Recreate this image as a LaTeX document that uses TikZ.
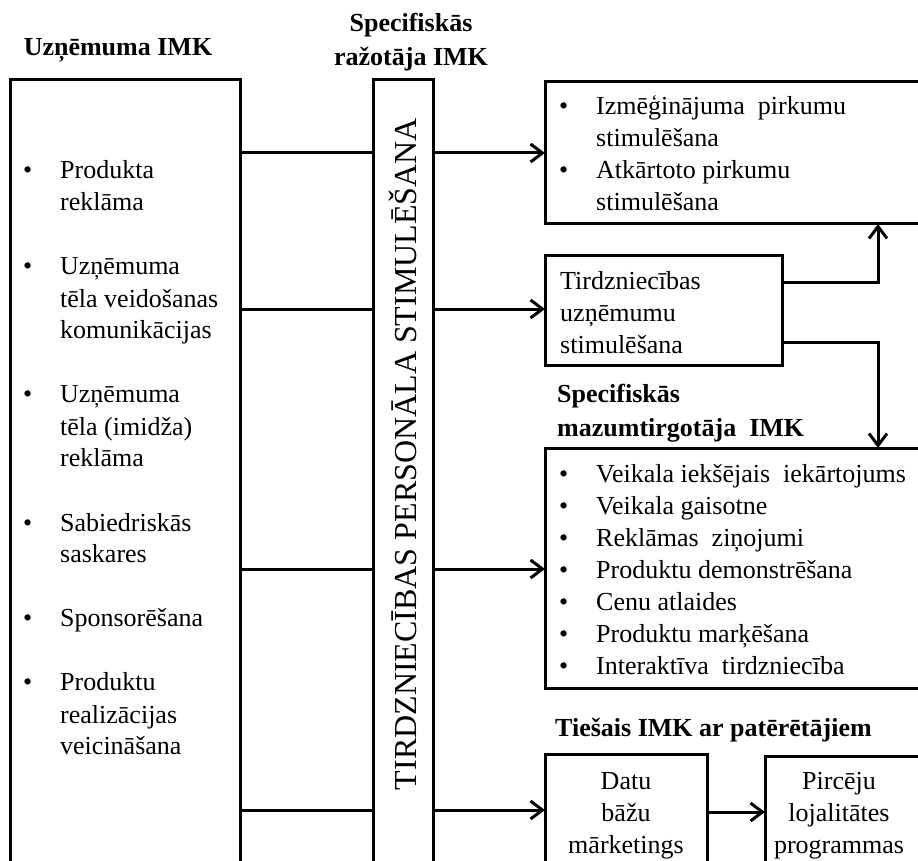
\documentclass[tikz,border=0pt]{standalone}
\usepackage{fontspec}
\setmainfont{Liberation Serif}
\usetikzlibrary{arrows.meta}
\begin{document}
\begin{tikzpicture}[x=1pt,y=-1pt,
  box/.style={draw, line width=3pt, anchor=north west, inner sep=0pt, outer sep=0pt},
  conn/.style={line width=3pt},
  arr/.style={line width=3pt, -{Straight Barb[length=12pt,width=18pt]}},
  txt/.style={inner sep=0pt, font=\fontsize{26}{32}\selectfont},
  head/.style={inner sep=0pt, font=\fontsize{26}{34}\bfseries\selectfont}]
\useasboundingbox (0,0) rectangle (918,861);
\clip (0,0) rectangle (918,861);
\newcommand\bl{\makebox[37pt][l]{\textbullet}}

% column headings (multi-line nodes sit on the baseline of their last line)
\node[head, anchor=base] (hfirm) at (118,56) {Uzņēmuma IMK};
\node[head, anchor=base, align=center] (hprod) at (411,66) {Specifiskās\\ražotāja IMK};
\node[head, anchor=base west, align=left] (hret) at (557,436) {Specifiskās\\mazumtirgotāja\ \ IMK};
\node[head, anchor=base west] (hdir) at (555,736) {Tiešais IMK ar patērētājiem};

% boxes
\node[box, minimum width=230pt, minimum height=830pt] (firm) at (10,80) {};
\node[box, minimum width=60pt, minimum height=830pt] (col) at (373,80) {};
\node[box, minimum width=390pt, minimum height=142pt] (top) at (545,82) {};
\node[box, minimum width=237pt, minimum height=110pt] (tird) at (545,255) {};
\node[box, minimum width=390pt, minimum height=240pt] (retail) at (545,448) {};
\node[box, minimum width=162pt, minimum height=150pt] (datu) at (545,754) {};
\node[box, minimum width=170pt, minimum height=150pt] (pirc) at (765,756) {};

% box contents
\node[txt, anchor=base west] (firmlist) at (23,179) {\begin{tabular}[t]{@{}l@{}l@{}}
\bl & Produkta\\ & reklāma\\[32pt]
\bl & Uzņēmuma\\ & tēla veidošanas\\ & komunikācijas\\[32pt]
\bl & Uzņēmuma\\ & tēla (imidža)\\ & reklāma\\[32pt]
\bl & Sabiedriskās\\ & saskares\\[32pt]
\bl & Sponsorēšana\\[32pt]
\bl & Produktu\\ & realizācijas\\ & veicināšana
\end{tabular}};
\node[txt, rotate=90, font=\fontsize{32}{38}\selectfont] (coltxt) at (403,454) {TIRDZNIECĪBAS PERSONĀLA STIMULĒŠANA};
\node[txt, anchor=base west] (toplist) at (559,115) {\begin{tabular}[t]{@{}l@{}l@{}}
\bl & Izmēģinājuma\ \ pirkumu\\ & stimulēšana\\
\bl & Atkārtoto pirkumu\\ & stimulēšana
\end{tabular}};
\node[txt, anchor=base west, align=left] (tirdtxt) at (560,353) {Tirdzniecības\\uzņēmumu\\stimulēšana};
\node[txt, anchor=base west] (retlist) at (559,482) {\begin{tabular}[t]{@{}l@{}l@{}}
\bl & Veikala iekšējais\ \ iekārtojums\\
\bl & Veikala gaisotne\\
\bl & Reklāmas\ \ ziņojumi\\
\bl & Produktu demonstrēšana\\
\bl & Cenu atlaides\\
\bl & Produktu marķēšana\\
\bl & Interaktīva\ \ tirdzniecība
\end{tabular}};
\node[txt, anchor=base, align=center] (datutxt) at (626,853) {Datu\\bāžu\\mārketings};
\node[txt, anchor=base, align=center] (pirctxt) at (839,853) {Pircēju\\lojalitātes\\programmas};

% connector levels
\coordinate (l1) at (0,153);
\coordinate (l2) at (0,309);
\coordinate (l3) at (0,569);
\coordinate (l4) at (0,810);
\coordinate (l5) at (0,812);
\coordinate (t1) at (0,282);
\coordinate (t2) at (0,342);
\coordinate (xr) at (878,0);

% firm-level communication feeds the sales-staff column
\draw[conn] (firm.east |- l1) -- (col.west |- l1);
\draw[conn] (firm.east |- l2) -- (col.west |- l2);
\draw[conn] (firm.east |- l3) -- (col.west |- l3);
\draw[conn] (firm.east |- l4) -- (col.west |- l4);

% column to the right-hand blocks
\draw[arr] (col.east |- l1) -- (top.west |- l1);
\draw[arr] (col.east |- l2) -- (tird.west |- l2);
\draw[arr] (col.east |- l3) -- (retail.west |- l3);
\draw[arr] (col.east |- l4) -- (datu.west |- l4);

% trade promotion branches
\draw[arr] (tird.east |- t1) -| (xr |- top.south);
\draw[arr] (tird.east |- t2) -| (xr |- retail.north);

% database marketing to loyalty programmes
\draw[arr] (datu.east |- l5) -- (pirc.west |- l5);
\end{tikzpicture}
\end{document}
